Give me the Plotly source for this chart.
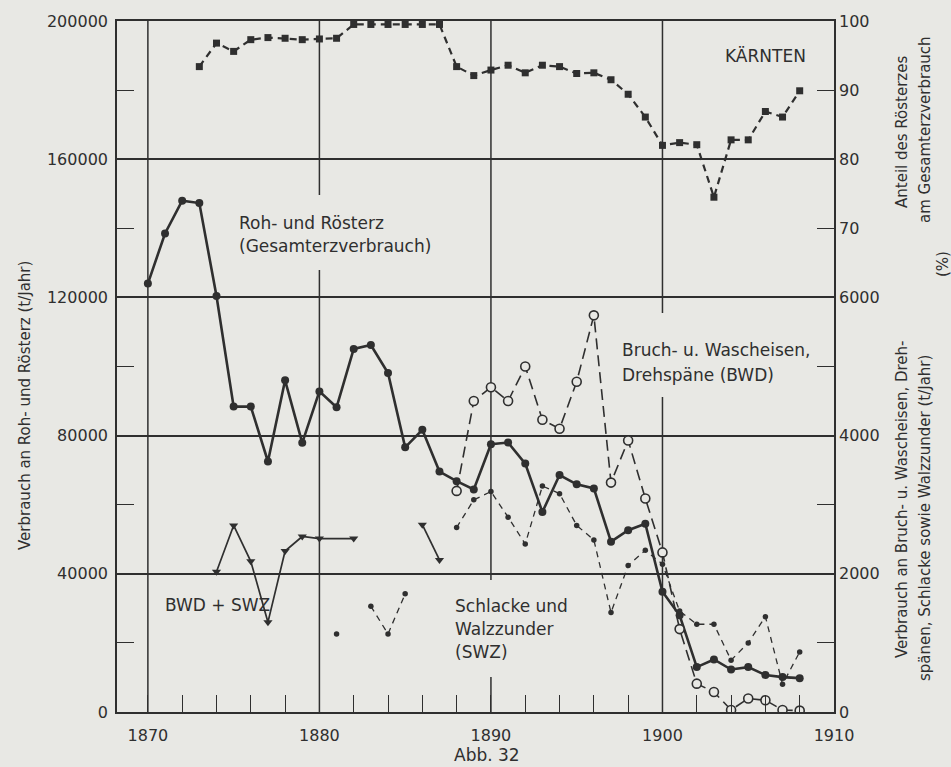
import plotly.graph_objects as go

# ---- data -------------------------------------------------------------
roh_years = list(range(1870, 1909))
roh_tonnes = [124000, 138500, 148000, 147300, 120400, 88400, 88400, 72500, 96000, 77900,
              92800, 88200, 105100, 106200, 98100, 76600, 81700, 69600, 66800, 64400,
              77500, 78000, 71900, 57900, 68600, 65900, 64700, 49300, 52600, 54500,
              34800, 28000, 13000, 15200, 12300, 13000, 10700, 10100, 9800]

kaernten_years = list(range(1873, 1909))
kaernten_share = [93.4, 96.8, 95.6, 97.3, 97.6, 97.5, 97.3, 97.4, 97.5,
                  99.5, 99.5, 99.5, 99.5, 99.5, 99.5,
                  93.4, 92.1, 92.9, 93.6, 92.5, 93.6, 93.4, 92.4, 92.5, 91.5, 89.4, 86.1,
                  82.0, 82.4, 82.1, 74.5, 82.8, 82.8, 86.9, 86.1, 89.9]

bwd_years = list(range(1888, 1909))
bwd_tonnes = [3200, 4500, 4700, 4500, 5000, 4230, 4100, 4780, 5740, 3320, 3930, 3090,
              2310, 1200, 410, 290, 30, 195, 170, 30, 20]

swz_years = list(range(1881, 1909))
swz_tonnes = [1130, None, 1530, 1130, 1710, None, None, 2670, 3070, 3190, 2820, 2430,
              3270, 3160, 2700, 2490, 1440, 2120, 2340, 2140, 1460, 1270, 1270, 750,
              1000, 1380, 400, 870]

bwd_swz_years = [1874, 1875, 1876, 1877, 1878, 1879, 1880, 1882, 1883, 1884, 1885, 1886, 1887]
bwd_swz_tonnes = [2030, 2700, 2180, 1300, 2330, 2540, 2510, 2510, None, None, None, 2710, 2200]

x_ticks = [1870, 1880, 1890, 1900, 1910]
left_ticks = [0, 40000, 80000, 120000, 160000, 200000]
right_low_ticks = [0, 2000, 4000, 6000]
right_pct_ticks = [70, 80, 90, 100]

# ---- page geometry ----------------------------------------------------
W, H = 951, 767
ML, MR, MT, MB = 117, 117, 21, 55
PW, PH = W - ML - MR, H - MT - MB


def px(xp, yp):
    """Pixel position on the page -> paper coordinates."""
    return (xp - ML) / PW, (H - MB - yp) / PH


INK = "#2f2f2f"
PAPER = "#e8e8e4"
FONT = "DejaVu Sans"

fig = go.Figure()

fig.add_trace(go.Scatter(
    x=kaernten_years, y=kaernten_share, yaxis="y3", mode="lines+markers",
    line=dict(color=INK, width=2.2, dash="7px,5px"),
    marker=dict(symbol="square", size=7, color=INK),
    showlegend=False, hoverinfo="skip"))

fig.add_trace(go.Scatter(
    x=swz_years, y=swz_tonnes, yaxis="y2", mode="lines+markers",
    line=dict(color=INK, width=1.3, dash="6px,5px"),
    marker=dict(symbol="circle", size=5.5, color=INK),
    showlegend=False, hoverinfo="skip"))

fig.add_trace(go.Scatter(
    x=bwd_swz_years, y=bwd_swz_tonnes, yaxis="y2", mode="lines+markers",
    line=dict(color=INK, width=1.7),
    marker=dict(symbol="triangle-down", size=8, color=INK),
    showlegend=False, hoverinfo="skip"))

fig.add_trace(go.Scatter(
    x=roh_years, y=roh_tonnes, mode="lines+markers",
    line=dict(color=INK, width=2.6),
    marker=dict(symbol="circle", size=8, color=INK),
    showlegend=False, hoverinfo="skip"))

fig.add_trace(go.Scatter(
    x=bwd_years, y=bwd_tonnes, yaxis="y2", mode="lines+markers",
    line=dict(color=INK, width=1.6, dash="11px,6px"),
    marker=dict(symbol="circle", size=9, color=PAPER, line=dict(color=INK, width=1.6)),
    showlegend=False, hoverinfo="skip"))

# vertical year lines, interrupted where the labels sit
segments = [
    (1870, 712, 21),
    (1880, 195, 21), (1880, 712, 270),
    (1890, 580, 21), (1890, 712, 677),
    (1900, 313, 21), (1900, 712, 397),
]
for year, y_bot, y_top in segments:
    fig.add_shape(type="line", xref="x", yref="paper",
                  x0=year, x1=year, y0=px(0, y_bot)[1], y1=px(0, y_top)[1],
                  line=dict(color=INK, width=1.5), layer="below")

tick_font = dict(family=FONT, size=16, color=INK)

fig.update_layout(
    width=W, height=H,
    margin=dict(l=ML, r=MR, t=MT, b=MB, pad=0),
    paper_bgcolor=PAPER, plot_bgcolor=PAPER,
    font=dict(family=FONT, color=INK),
    xaxis=dict(range=[1868.2, 1910], tickmode="array", tickvals=x_ticks,
               ticks="", showgrid=False, zeroline=False,
               showline=True, mirror=True, linecolor=INK, linewidth=1.6,
               tickfont=tick_font, ticklabelstandoff=8,
               minor=dict(tickmode="linear", tick0=1870, dtick=2, ticks="inside",
                          ticklen=17, tickwidth=1.4, tickcolor=INK, showgrid=False)),
    yaxis=dict(range=[0, 200000], tickmode="array", tickvals=left_ticks,
               tickformat="d",
               ticks="", showgrid=True, gridcolor=INK, gridwidth=1.5, zeroline=False,
               showline=True, mirror=True, linecolor=INK, linewidth=1.6,
               tickfont=tick_font, ticklabelstandoff=4,
               minor=dict(tickmode="array", tickvals=[20000, 60000, 100000, 140000, 180000],
                          ticks="inside", ticklen=17, tickwidth=1.4, tickcolor=INK,
                          showgrid=False)),
    yaxis2=dict(range=[0, 10000], overlaying="y", side="right", anchor="x",
                tickmode="array", tickvals=right_low_ticks, tickformat="d", ticks="",
                showgrid=False, zeroline=False, showline=False,
                tickfont=tick_font, ticklabelstandoff=4,
                minor=dict(tickmode="array", tickvals=[1000, 3000, 5000, 7000, 9000],
                           ticks="inside", ticklen=17, tickwidth=1.4, tickcolor=INK,
                           showgrid=False)),
    yaxis3=dict(range=[0, 100], overlaying="y", side="right", anchor="x",
                tickmode="array", tickvals=right_pct_ticks, ticks="",
                showgrid=False, zeroline=False, showline=False,
                tickfont=tick_font, ticklabelstandoff=4),
)

label_font = dict(family=FONT, size=17, color=INK)
labels = [
    ("KÄRNTEN", 723, 56),
    ("Roh- und Rösterz", 237, 223),
    ("(Gesamterzverbrauch)", 237, 246),
    ("Bruch- u. Wascheisen,", 620, 350),
    ("Drehspäne (BWD)", 620, 375),
    ("BWD + SWZ", 163, 605),
    ("Schlacke und", 453, 606),
    ("Walzzunder", 453, 629),
    ("(SWZ)", 453, 652),
    ("Abb. 32", 452, 755),
]
for text, xp, yp in labels:
    ax, ay = px(xp, yp)
    fig.add_annotation(text=text, x=ax, y=ay, xref="paper", yref="paper",
                       xanchor="left", yanchor="middle", showarrow=False,
                       font=label_font)

title_font = dict(family=FONT, size=15, color=INK)
titles = [
    ("Verbrauch an Roh- und Rösterz (t/Jahr)", 25, 406),
    ("Anteil des Rösterzes", 902, 132),
    ("am Gesamterzverbrauch", 925, 130),
    ("(%)", 943, 264),
    ("Verbrauch an Bruch- u. Wascheisen, Dreh-", 902, 500),
    ("spänen, Schlacke sowie Walzzunder (t/Jahr)", 925, 518),
]
for text, xp, yp in titles:
    ax, ay = px(xp, yp)
    fig.add_annotation(text=text, x=ax, y=ay, xref="paper", yref="paper",
                       xanchor="center", yanchor="middle", textangle=-90,
                       showarrow=False, font=title_font)

fig.write_html("out.html")
